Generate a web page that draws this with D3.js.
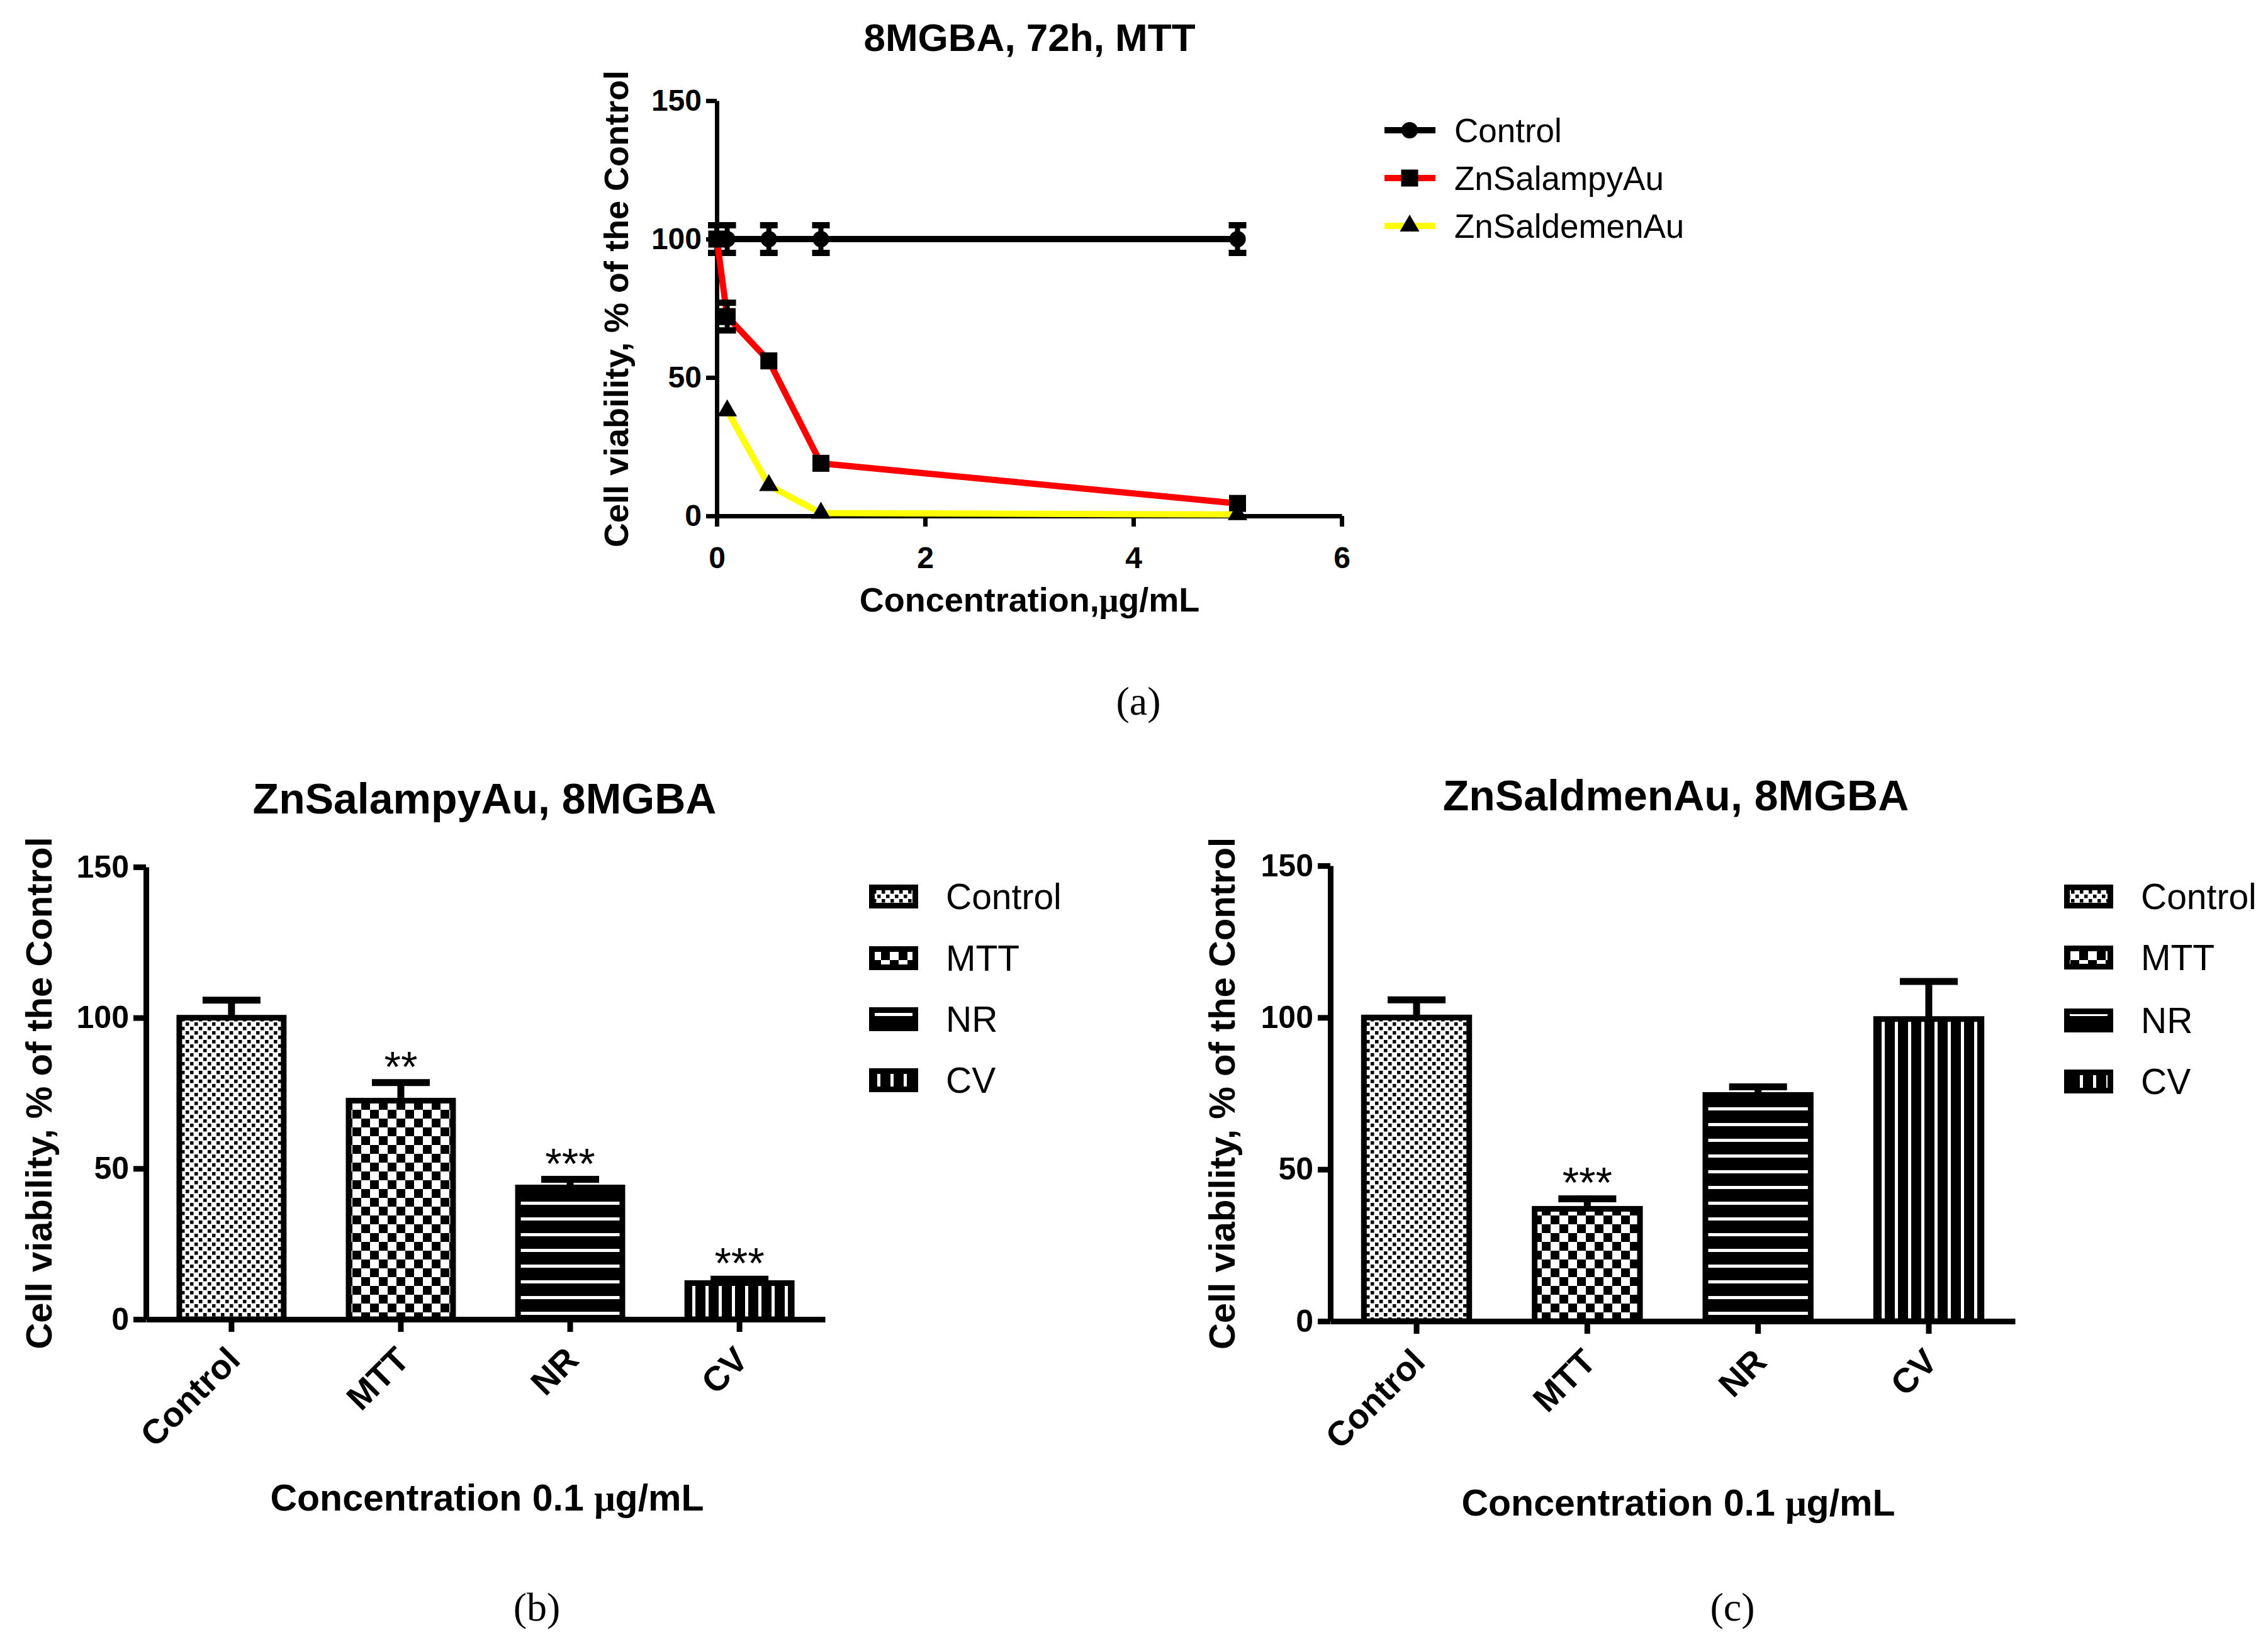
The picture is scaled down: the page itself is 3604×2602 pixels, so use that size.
<!DOCTYPE html>
<html>
<head>
<meta charset="utf-8">
<script src="https://cdn.jsdelivr.net/npm/d3@7"></script>
<style>
  body { margin: 0; background: #fff; }
  svg { display: block; font-family: "Liberation Sans", Arial, sans-serif; }
</style>
</head>
<body>
<svg id="fig" width="3604" height="2602"></svg>
<script>
const concentrations = [0, 0.1, 0.5, 1, 5];
const controlViability = [100, 100, 100, 100, 100];
const controlSd = [5, 5, 5, 5, 5];
const salampyViability = [100, 72, 56, 19, 4.5];
const salampySd = [0, 5, 0, 0, 0];
const saldemenConc = [0.1, 0.5, 1, 5];
const saldemenViability = [38, 11, 1, 0.5];
const concTicks = [0, 2, 4, 6];
const viabilityTicks = [0, 50, 100, 150];

const assays = ["Control", "MTT", "NR", "CV"];
const salampyBars = [100, 72.5, 43.7, 12];
const salampyBarSd = [5.8, 6, 2.7, 1.3];
const salampyStars = ["", "**", "***", "***"];
const saldmenBars = [100, 37, 74.5, 99.5];
const saldmenBarSd = [5.8, 3.3, 2.7, 12.4];
const saldmenStars = ["", "***", "", ""];

const SANS = "Liberation Sans, Arial, sans-serif";
const SERIF = "Liberation Serif, Times New Roman, serif";

const svg = d3.select("#fig");
svg.append("rect").attr("width", 3604).attr("height", 2602).attr("fill", "#fff");

// fill patterns used by the bars
const defs = svg.append("defs");
const pattern = (id, w, h, bg) => {
  const p = defs.append("pattern").attr("id", id)
    .attr("patternUnits", "userSpaceOnUse").attr("width", w).attr("height", h);
  p.append("rect").attr("width", w).attr("height", h).attr("fill", bg);
  return p;
};
let p = pattern("pat-Control", 14, 14, "#fff");
p.append("rect").attr("x", 1).attr("y", 1).attr("width", 5.5).attr("height", 5.5);
p.append("rect").attr("x", 8).attr("y", 8).attr("width", 5.5).attr("height", 5.5);
p = pattern("pat-MTT", 28, 28, "#fff");
p.append("rect").attr("width", 14).attr("height", 14);
p.append("rect").attr("x", 14).attr("y", 14).attr("width", 14).attr("height", 14);
p = pattern("pat-NR", 10, 25, "#000");
p.append("rect").attr("y", 10).attr("width", 10).attr("height", 5).attr("fill", "#fff");
p = pattern("pat-CV", 21, 10, "#000");
p.append("rect").attr("x", 8).attr("width", 5).attr("height", 10).attr("fill", "#fff");

function styleAxis(g, width, fontSize) {
  g.selectAll("path, line").attr("stroke", "#000").attr("stroke-width", width);
  g.selectAll("text").attr("font-size", fontSize).attr("font-weight", "bold")
    .attr("fill", "#000").attr("font-family", SANS);
}

// ---------- panel (a) ----------
const xA = d3.scaleLinear().domain([0, 6]).range([1139, 2132]);
const yA = d3.scaleLinear().domain([0, 150]).range([820, 160]);
const gA = svg.append("g");

gA.append("g").attr("transform", `translate(0,${yA(0)})`)
  .call(d3.axisBottom(xA).tickValues(concTicks).tickFormat(d3.format("d"))
    .tickSize(17).tickSizeOuter(0).tickPadding(32))
  .call(g => styleAxis(g, 7, 48));
gA.append("g").attr("transform", `translate(${xA(0)},0)`)
  .call(d3.axisLeft(yA).tickValues(viabilityTicks).tickSize(17).tickSizeOuter(0).tickPadding(7))
  .call(g => styleAxis(g, 7, 48));

const series = [
  { name: "Control", color: "#000", shape: d3.symbolCircle, size: 540,
    pts: concentrations.map((c, i) => [c, controlViability[i], controlSd[i]]) },
  { name: "ZnSalampyAu", color: "#ff0000", shape: d3.symbolSquare, size: 730,
    pts: concentrations.map((c, i) => [c, salampyViability[i], salampySd[i]]) },
  { name: "ZnSaldemenAu", color: "#ffff00", shape: d3.symbolTriangle, size: 420,
    pts: saldemenConc.map((c, i) => [c, saldemenViability[i], 0]) }
];

const line = d3.line().x(d => xA(d[0])).y(d => yA(d[1]));

series.forEach(s => {
  const g = gA.append("g");
  g.append("path").datum(s.pts).attr("d", line)
    .attr("fill", "none").attr("stroke", s.color).attr("stroke-width", 10)
    .attr("stroke-linejoin", "round");
  const eb = g.selectAll(".eb").data(s.pts.filter(d => d[2] > 0)).join("g");
  eb.append("line").attr("x1", d => xA(d[0])).attr("x2", d => xA(d[0]))
    .attr("y1", d => yA(d[1] - d[2])).attr("y2", d => yA(d[1] + d[2]))
    .attr("stroke", "#000").attr("stroke-width", 8);
  [-1, 1].forEach(k => {
    eb.append("line").attr("x1", d => xA(d[0]) - 14).attr("x2", d => xA(d[0]) + 14)
      .attr("y1", d => yA(d[1] + k * d[2])).attr("y2", d => yA(d[1] + k * d[2]))
      .attr("stroke", "#000").attr("stroke-width", 10);
  });
  g.selectAll(".mk").data(s.pts).join("path")
    .attr("transform", d => `translate(${xA(d[0])},${yA(d[1])})`)
    .attr("d", d3.symbol(s.shape, s.size)).attr("fill", "#000");
});

const legA = gA.append("g");
[207, 283, 359].forEach((yy, i) => {
  const s = series[i];
  legA.append("line").attr("x1", 2200).attr("x2", 2281).attr("y1", yy).attr("y2", yy)
    .attr("stroke", s.color).attr("stroke-width", 10);
  legA.append("path").attr("transform", `translate(2240,${yy})`)
    .attr("d", d3.symbol(s.shape, s.size)).attr("fill", "#000");
  legA.append("text").attr("x", 2311).attr("y", yy).attr("dy", "0.35em")
    .attr("font-size", 53).text(s.name);
});

gA.append("text").attr("x", 1636).attr("y", 81).attr("text-anchor", "middle")
  .attr("font-size", 62).attr("font-weight", "bold").text("8MGBA, 72h, MTT");
gA.append("text").attr("transform", "translate(979,491) rotate(-90)").attr("dy", "0.35em")
  .attr("text-anchor", "middle").attr("font-size", 54).attr("font-weight", "bold")
  .text("Cell viability, % of the Control");
const xlA = gA.append("text").attr("x", 1636).attr("y", 972).attr("text-anchor", "middle")
  .attr("font-size", 54).attr("font-weight", "bold");
xlA.append("tspan").text("Concentration,");
xlA.append("tspan").attr("font-family", SERIF).text("μ");
xlA.append("tspan").text("g/mL");
svg.append("text").attr("x", 1809).attr("y", 1136).attr("text-anchor", "middle")
  .attr("font-family", SERIF).attr("font-size", 64).text("(a)");

// ---------- panels (b) and (c) ----------
function barPanel(o) {
  const g = svg.append("g");
  const x = d3.scaleBand().domain(assays).range([o.left, o.right])
    .paddingInner(0.35).paddingOuter(0.18);
  const y = d3.scaleLinear().domain([0, 150]).range([o.bottom, o.top]);
  const rows = assays.map((a, i) => ({ a, v: o.values[i], sd: o.sd[i], star: o.stars[i] }));

  g.selectAll(".bar").data(rows).join("rect")
    .attr("x", d => x(d.a) + 4.5).attr("width", x.bandwidth() - 9)
    .attr("y", d => y(d.v)).attr("height", d => y(0) - y(d.v))
    .attr("fill", d => `url(#pat-${d.a})`).attr("stroke", "#000").attr("stroke-width", 9);

  const cx = d => x(d.a) + x.bandwidth() / 2;
  g.selectAll(".stem").data(rows).join("line")
    .attr("x1", cx).attr("x2", cx).attr("y1", d => y(d.v)).attr("y2", d => y(d.v + d.sd))
    .attr("stroke", "#000").attr("stroke-width", 11);
  g.selectAll(".cap").data(rows).join("line")
    .attr("x1", d => cx(d) - 46).attr("x2", d => cx(d) + 46)
    .attr("y1", d => y(d.v + d.sd)).attr("y2", d => y(d.v + d.sd))
    .attr("stroke", "#000").attr("stroke-width", 11);
  g.selectAll(".star").data(rows).join("text")
    .attr("x", cx).attr("y", d => y(d.v + d.sd) - 2).attr("text-anchor", "middle")
    .attr("font-size", 68).text(d => d.star);

  g.append("g").attr("transform", `translate(0,${y(0)})`)
    .call(d3.axisBottom(x).tickSize(20).tickSizeOuter(0))
    .call(ax => styleAxis(ax, 9, 55))
    .call(ax => ax.selectAll(".tick text").attr("x", 0).attr("y", 0).attr("dy", "0.35em")
      .attr("text-anchor", "end").attr("transform", "translate(3,54) rotate(-45)"));
  g.append("g").attr("transform", `translate(${o.left},0)`)
    .call(d3.axisLeft(y).tickValues(viabilityTicks).tickSize(20).tickSizeOuter(0).tickPadding(7))
    .call(ax => styleAxis(ax, 9, 50));

  o.legendRows.forEach((yy, i) => {
    g.append("rect").attr("x", o.legendX + 4.5).attr("y", yy - 14.5)
      .attr("width", 69).attr("height", 29)
      .attr("fill", `url(#pat-${assays[i]})`).attr("stroke", "#000").attr("stroke-width", 9);
    g.append("text").attr("x", o.legendX + 122).attr("y", yy).attr("dy", "0.35em")
      .attr("font-size", 57).text(assays[i]);
  });

  g.append("text").attr("x", o.titleX).attr("y", o.titleY).attr("text-anchor", "middle")
    .attr("font-size", 68).attr("font-weight", "bold").text(o.title);
  g.append("text").attr("transform", `translate(${o.ylabelX},${(o.top + o.bottom) / 2}) rotate(-90)`)
    .attr("dy", "0.35em").attr("text-anchor", "middle").attr("font-size", 58)
    .attr("font-weight", "bold").text("Cell viability, % of the Control");
  const xl = g.append("text").attr("x", o.titleX + 4).attr("y", o.xlabelY)
    .attr("text-anchor", "middle").attr("font-size", 59).attr("font-weight", "bold");
  xl.append("tspan").text("Concentration 0.1 ");
  xl.append("tspan").attr("font-family", SERIF).text("μ");
  xl.append("tspan").text("g/mL");
  g.append("text").attr("x", o.tagX).attr("y", 2576).attr("text-anchor", "middle")
    .attr("font-family", SERIF).attr("font-size", 64).text(o.tag);
}

barPanel({
  left: 232, right: 1311, top: 1378, bottom: 2097,
  values: salampyBars, sd: salampyBarSd, stars: salampyStars,
  legendX: 1381, legendRows: [1425, 1523, 1620, 1717],
  title: "ZnSalampyAu, 8MGBA", titleX: 770, titleY: 1293,
  ylabelX: 62, xlabelY: 2401, tag: "(b)", tagX: 853
});
barPanel({
  left: 2114, right: 3202, top: 1376, bottom: 2100,
  values: saldmenBars, sd: saldmenBarSd, stars: saldmenStars,
  legendX: 3280, legendRows: [1425, 1522, 1622, 1719],
  title: "ZnSaldmenAu, 8MGBA", titleX: 2663, titleY: 1288,
  ylabelX: 1942, xlabelY: 2409, tag: "(c)", tagX: 2753
});
</script>
</body>
</html>
